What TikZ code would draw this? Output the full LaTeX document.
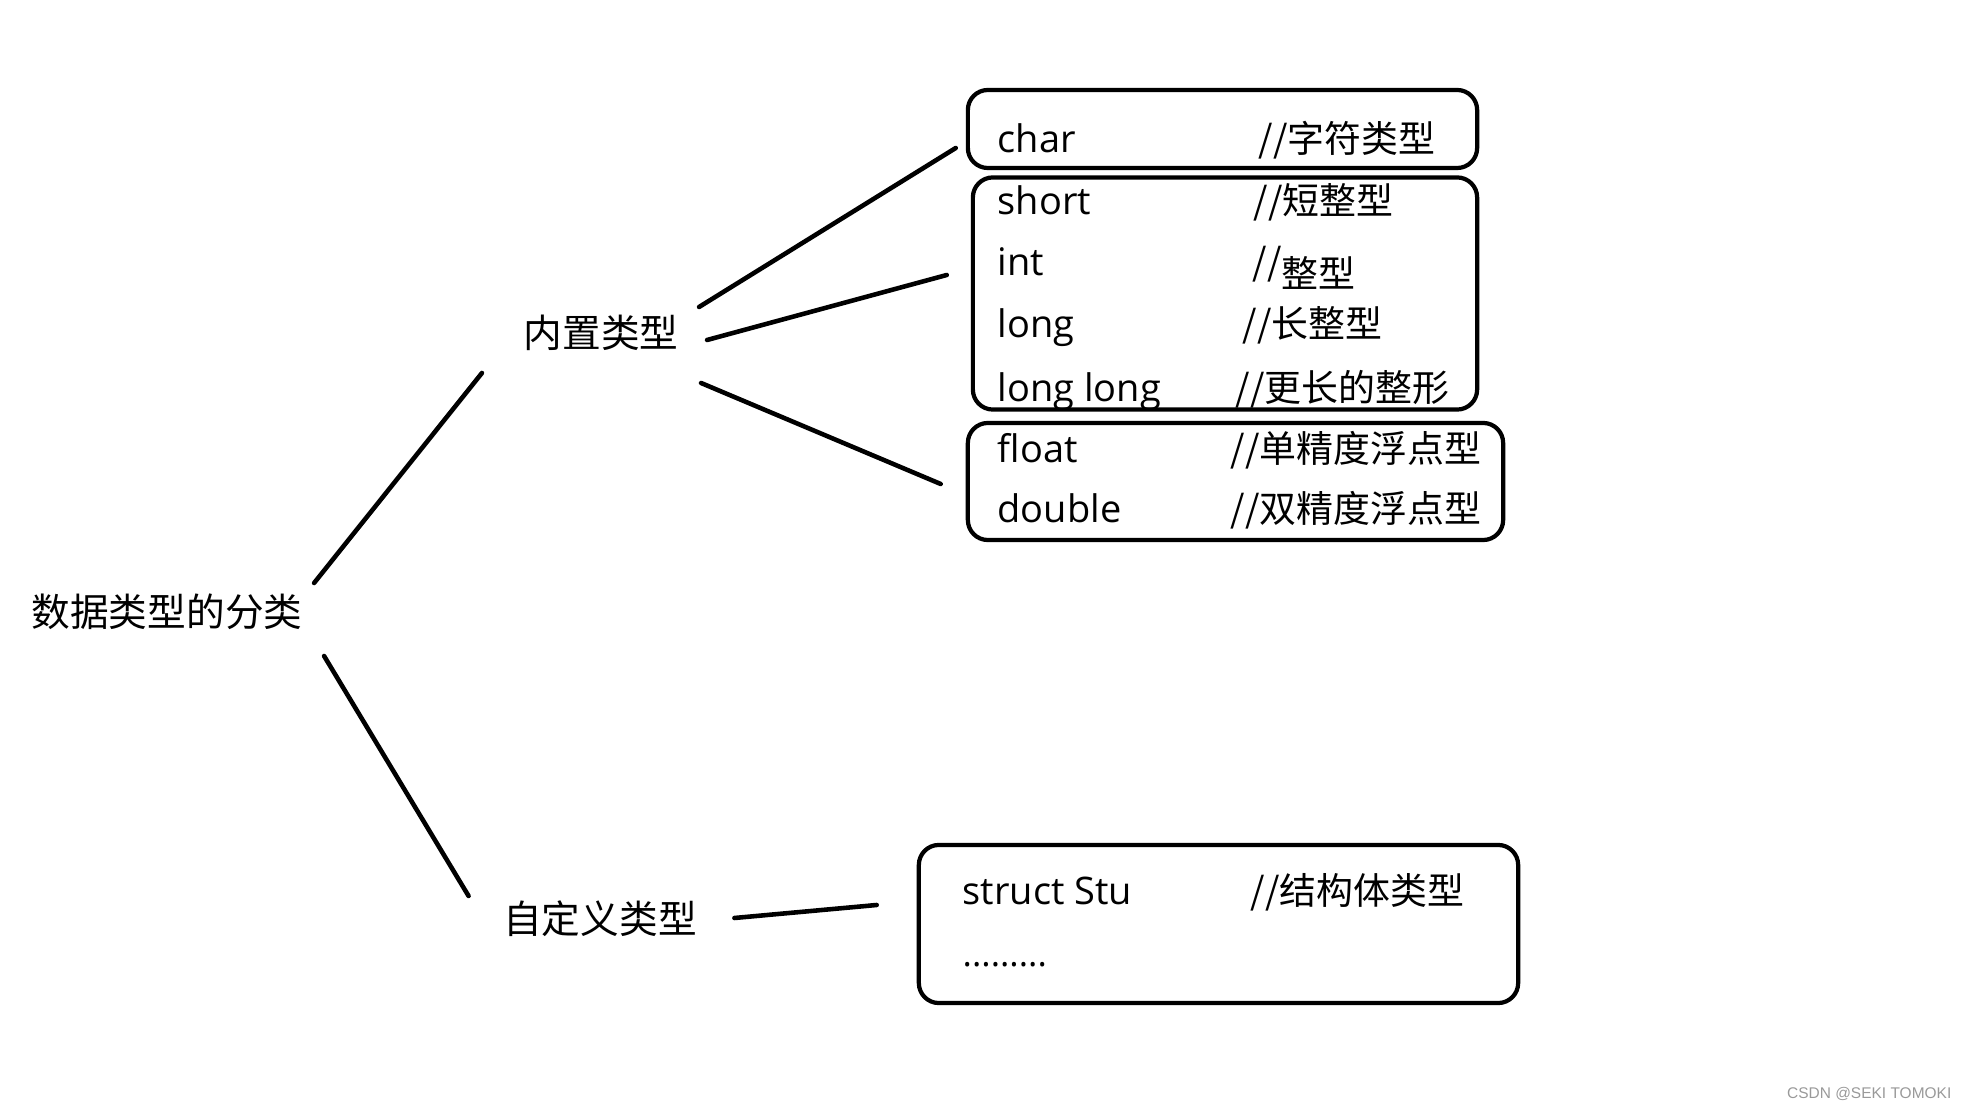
\documentclass[tikz,border=0pt]{standalone}
\usepackage{fontspec}
\setmainfont{Open Sans}
\newfontfamily\cjk{Noto Sans CJK SC}
\newfontfamily\marksf{Liberation Sans}

\begin{document}
\begin{tikzpicture}[x=0.01cm,y=-0.01cm,
	lbl/.style={inner sep=0,font=\cjk\fontsize{11}{13}\selectfont},
	typebox/.style={draw,line width=1.2pt,rounded corners=0.2cm,inner sep=0},
	kw/.style={anchor=base west,inner sep=0,font=\fontsize{10.8}{13}\selectfont},
	cmt/.style={anchor=base west,inner sep=0,font=\cjk\fontsize{10.5}{13}\selectfont},
	link/.style={line width=1.3pt,line cap=round}]
	\useasboundingbox (0,0) rectangle (1966,1110);
	% labels
	\node[lbl] (root) at (167,612) {数据类型的分类};
	\node[lbl] (builtin) at (601,333) {内置类型};
	\node[lbl] (custom) at (600,919) {自定义类型};
	% boxes
	\node[typebox,minimum width=5.09cm,minimum height=0.78cm] (charbox) at (1222.5,129) {};
	\node[typebox,minimum width=5.04cm,minimum height=2.32cm] (intbox) at (1225,293.5) {};
	\node[typebox,minimum width=5.35cm,minimum height=1.17cm] (floatbox) at (1235.5,481.5) {};
	\node[typebox,minimum width=5.99cm,minimum height=1.58cm] (structbox) at (1218.5,924) {};
	% box contents
	\node[kw] (char) at (997,153) {char};
	\node[cmt] (charc) at (1258,153) {//字符类型};
	\node[kw] (short) at (997,215) {short};
	\node[cmt] (shortc) at (1253,215) {//短整型};
	\node[kw] (int) at (997,276) {int};
	\node[cmt] (intc) at (1252,276) {//\raisebox{-0.12cm}{整型}};
	\node[kw] (long) at (997,338) {long};
	\node[cmt] (longc) at (1242,338) {//长整型};
	\node[kw] (llong) at (997,402) {long long};
	\node[cmt] (llongc) at (1235,402) {//更长的整形};
	\node[kw] (float) at (997,463) {float};
	\node[cmt] (floatc) at (1230,463) {//单精度浮点型};
	\node[kw] (double) at (997,523) {double};
	\node[cmt] (doublec) at (1230,523) {//双精度浮点型};
	\node[kw] (stu) at (962,905) {struct Stu};
	\node[cmt] (stuc) at (1250,905) {//结构体类型};
	\node[kw,font=\fontsize{10}{12}\selectfont] (dots) at (962,967) {.........};
	% connectors
	\draw[link] ([shift={(11,-29)}]root.east) -- ([shift={(-41,40)}]builtin.west);
	\draw[link] ([shift={(21,44)}]root.east) -- ([shift={(-34,-23)}]custom.west);
	\draw[link] ([shift={(20,-26)}]builtin.east) -- ([shift={(-10,19)}]charbox.west);
	\draw[link] ([shift={(28,7)}]builtin.east) -- ([shift={(-24,-18.5)}]intbox.west);
	\draw[link] ([shift={(22,50)}]builtin.east) -- ([shift={(-25,2.5)}]floatbox.west);
	\draw[link] ([shift={(37,-1)}]custom.east) -- ([shift={(-40,-19)}]structbox.west);
	% watermark
	\node[anchor=east,inner sep=0,text=black!40,font=\marksf\fontsize{4.4}{5}\selectfont] (mark) at (1952,1094) {CSDN @SEKI TOMOKI};
\end{tikzpicture}
\end{document}
